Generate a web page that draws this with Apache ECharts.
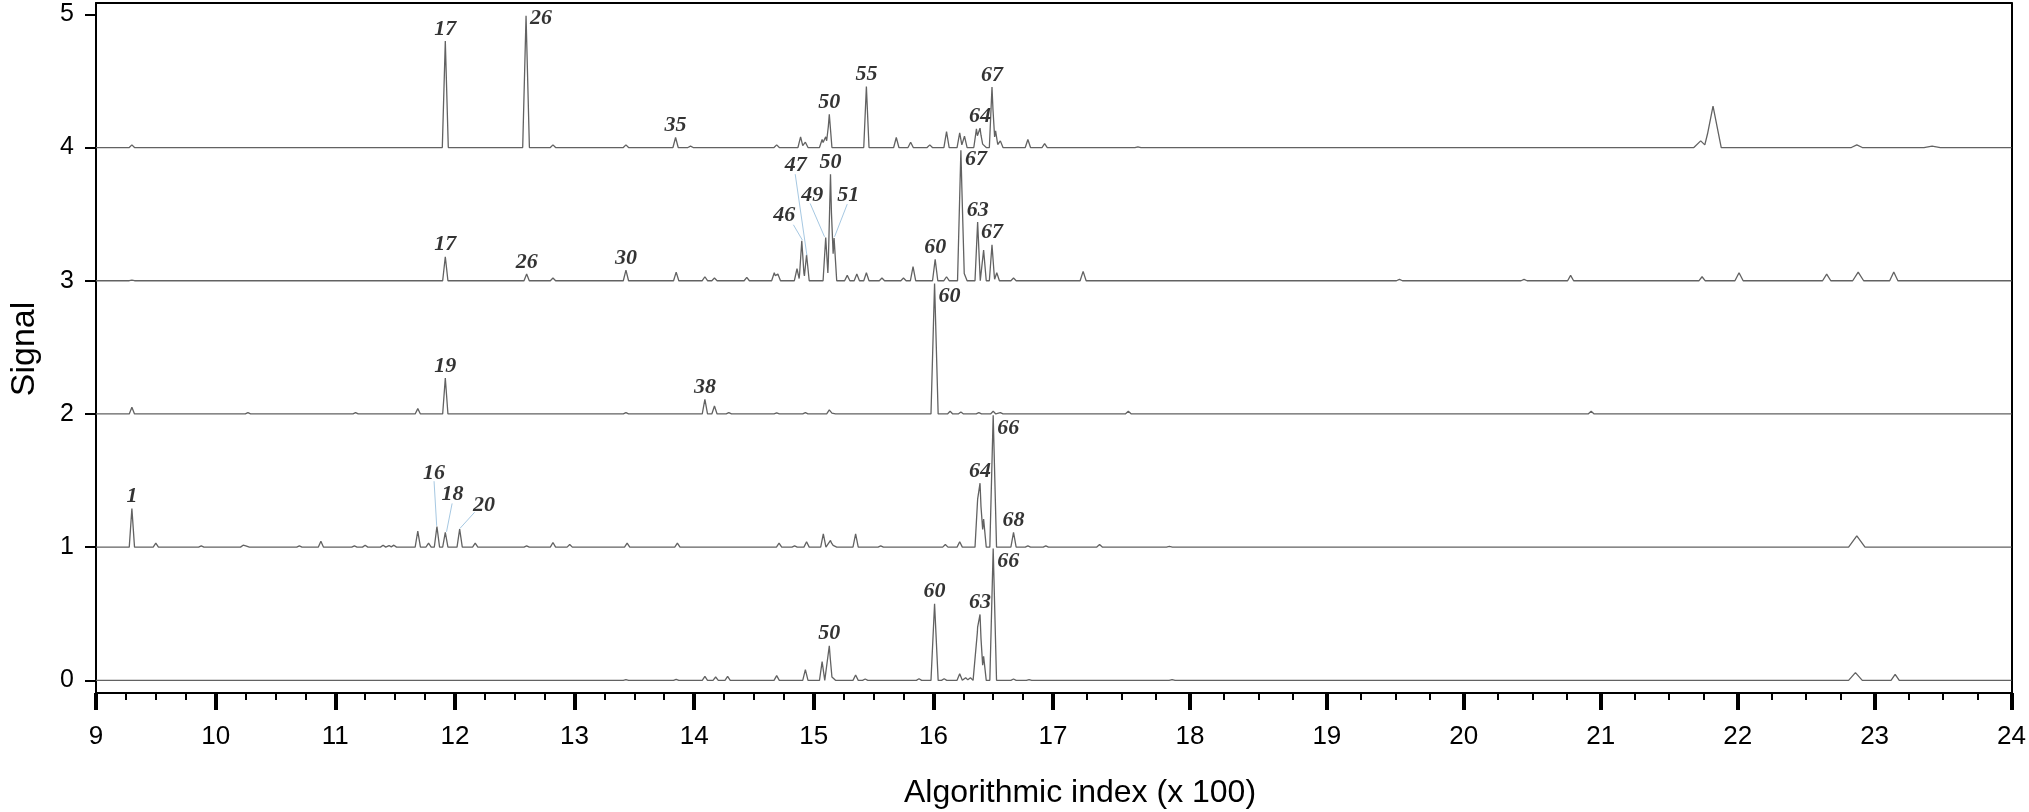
<!DOCTYPE html>
<html><head><meta charset="utf-8">
<script src="https://cdn.jsdelivr.net/npm/echarts@6/dist/echarts.min.js"></script>
<style>html,body{margin:0;padding:0;background:#fff}#c{width:2029px;height:812px}</style>
</head><body><div id="c"></div>
<script>
// ---------------- data ----------------
const xMin = 9, xBreak = 17, xMax = 24;
const yTickValues = [0, 1, 2, 3, 4, 5];
const traceOffsets = [0, 1, 2, 3, 4];

// peaks: [position (x100), height above the trace baseline, optional half-width]
const trace0Peaks = [[13.43,0.005],[13.85,0.008],[14.09,0.03],[14.18,0.025],[14.28,0.03],[14.69,0.035],[14.93,0.08],[15.07,0.14],[15.13,0.26],[15.16,0.04],[15.35,0.04],[15.43,0.01],[15.88,0.012],[16.01,0.575,0.03],[16.09,0.012],[16.22,0.05],[16.27,0.02],[16.31,0.02],[16.37,0.40],[16.39,0.495],[16.42,0.18],[16.50,0.99,0.028],[16.67,0.01],[16.80,0.006],[17.87,0.005],[22.86,0.058,0.05],[23.15,0.045,0.03]];
const trace1Peaks = [[9.30,0.29],[9.50,0.03],[9.88,0.01],[10.23,0.015],[10.26,0.015],[10.70,0.01],[10.88,0.045],[11.16,0.01],[11.25,0.015],[11.40,0.015],[11.45,0.012],[11.49,0.015],[11.69,0.12],[11.78,0.03],[11.85,0.155],[11.92,0.11],[12.04,0.135],[12.17,0.03],[12.60,0.01],[12.82,0.035],[12.96,0.02],[13.44,0.03],[13.86,0.03],[14.71,0.03],[14.84,0.01],[14.94,0.04],[15.08,0.10],[15.14,0.05],[15.17,0.02],[15.35,0.10],[15.56,0.01],[16.10,0.02],[16.22,0.04],[16.37,0.36],[16.39,0.48],[16.42,0.21],[16.50,0.99,0.028],[16.67,0.11],[16.79,0.01],[16.94,0.01],[17.34,0.02],[17.85,0.005],[22.87,0.085,0.06]];
const trace2Peaks = [[9.30,0.05],[10.27,0.01],[11.17,0.01],[11.69,0.04],[11.92,0.27],[13.43,0.01],[14.09,0.11],[14.17,0.06],[14.29,0.01],[14.69,0.008],[14.93,0.01],[15.13,0.03],[15.16,0.01],[16.01,0.98,0.03],[16.14,0.02],[16.23,0.015],[16.38,0.01],[16.50,0.02],[16.56,0.01],[17.55,0.02],[20.93,0.02]];
const trace3Peaks = [[9.30,0.005],[11.92,0.18],[12.60,0.05],[12.82,0.02],[13.43,0.08],[13.85,0.065],[14.09,0.03],[14.17,0.02],[14.44,0.025],[14.67,0.06],[14.70,0.05],[14.86,0.09],[14.90,0.30],[14.94,0.195],[15.10,0.325],[15.14,0.80],[15.17,0.32],[15.28,0.04],[15.36,0.05],[15.44,0.06],[15.57,0.02],[15.75,0.02],[15.83,0.105],[16.015,0.16],[16.11,0.03],[16.23,0.98,0.028],[16.26,0.06],[16.37,0.44],[16.42,0.23],[16.49,0.27],[16.53,0.06],[16.67,0.02],[17.22,0.07],[19.53,0.01],[20.44,0.01],[20.78,0.04],[21.74,0.03],[22.01,0.06,0.03],[22.65,0.05,0.03],[22.88,0.065,0.04],[23.14,0.065,0.03]];
const trace4Peaks = [[9.30,0.02],[11.92,0.80,0.025],[12.595,0.99,0.028],[12.82,0.02],[13.43,0.02],[13.845,0.075],[13.97,0.01],[14.69,0.02],[14.89,0.08],[14.93,0.04],[15.07,0.06],[15.10,0.08],[15.13,0.25],[15.44,0.457],[15.69,0.075],[15.81,0.04],[15.97,0.02],[16.11,0.12],[16.22,0.11],[16.26,0.085],[16.36,0.14],[16.39,0.145],[16.42,0.04],[16.49,0.455],[16.52,0.125],[16.56,0.05],[16.79,0.06],[16.93,0.03],[17.62,0.005],[21.73,0.05,0.05],[21.82,0.31,0.06],[22.87,0.02,0.04],[23.42,0.01,0.06]];
const tracePeaks = [trace0Peaks, trace1Peaks, trace2Peaks, trace3Peaks, trace4Peaks];

// peak labels: [trace, peak position, text, side]
const peakLabels = [
  [4,11.92,'17','top'],[4,12.595,'26','right'],[4,13.845,'35','top'],[4,15.13,'50','top'],[4,15.44,'55','top'],[4,16.39,'64','top'],[4,16.49,'67','top'],
  [3,11.92,'17','top'],[3,12.60,'26','top'],[3,13.43,'30','top'],[3,15.14,'50','top'],[3,16.015,'60','top'],[3,16.23,'67','right'],[3,16.37,'63','top'],[3,16.49,'67','top'],
  [2,11.92,'19','top'],[2,14.09,'38','top'],[2,16.01,'60','right'],
  [1,9.30,'1','top'],[1,16.39,'64','top'],[1,16.50,'66','right'],[1,16.67,'68','top'],
  [0,15.13,'50','top'],[0,16.01,'60','top'],[0,16.39,'63','top'],[0,16.50,'66','right']
];
// labels with leader lines: text, label centre, leader start, leader end
const leaderLabels = [
  ['46',[14.753,3.4875],[14.83,3.42],[14.905,3.305]],
  ['47',[14.849,3.87],[14.845,3.80],[14.943,3.19]],
  ['49',[14.987,3.645],[14.97,3.58],[15.09,3.33]],
  ['51',[15.288,3.645],[15.28,3.575],[15.174,3.33]],
  ['16',[11.826,1.556],[11.826,1.495],[11.848,1.16]],
  ['18',[11.981,1.395],[11.977,1.328],[11.93,1.115]],
  ['20',[12.244,1.3125],[12.165,1.262],[12.042,1.14]]
];

// ---------------- build ----------------
const DEFAULT_W = 0.022;
function traceLine(peaks, base) {
  const xs = new Set([xMin, xBreak, xMax]);
  peaks.forEach(p => { const w = p[2] || DEFAULT_W; xs.add(+(p[0]-w).toFixed(4)); xs.add(p[0]); xs.add(+(p[0]+w).toFixed(4)); });
  const arr = Array.from(xs).filter(x => x >= xMin && x <= xMax).sort((a,b)=>a-b);
  return arr.map(x => {
    let y = 0;
    peaks.forEach(p => { const w = p[2] || DEFAULT_W; const t = p[1] * (1 - Math.abs(x - p[0]) / w); if (t > y) y = t; });
    return [x, +(base + y).toFixed(4)];
  });
}
function peakTop(trace, x) {
  const p = tracePeaks[trace].find(q => Math.abs(q[0]-x) < 1e-6);
  return traceOffsets[trace] + (p ? p[1] : 0);
}

const series = [];
tracePeaks.forEach((pk, i) => {
  const pts = traceLine(pk, traceOffsets[i]);
  const lineStyle = {color:'#626262', width:1.3};
  series.push({type:'line', xAxisIndex:0, yAxisIndex:0, data:pts.filter(p=>p[0]<=xBreak), showSymbol:false, symbol:'none', lineStyle, silent:true, animation:false, clip:true});
  series.push({type:'line', xAxisIndex:2, yAxisIndex:1, data:pts.filter(p=>p[0]>=xBreak), showSymbol:false, symbol:'none', lineStyle, silent:true, animation:false, clip:true});
});

const labelFont = {fontFamily:'Liberation Serif', fontStyle:'italic', fontWeight:'bold', fontSize:22, color:'#000'};
const rightDy = {'4_12.595':3, '3_16.23':9, '2_16.01':13, '1_16.5':13, '0_16.5':13};
const labelData = peakLabels.map(l => {
  const [tr, x, txt, side] = l;
  const y = peakTop(tr, x);
  const label = side === 'right'
    ? Object.assign({show:true, position:'right', distance:4, offset:[0, rightDy[tr+'_'+x] || 12], formatter:txt}, labelFont)
    : Object.assign({show:true, position:'top', distance:1, formatter:txt}, labelFont);
  return {value:[x, y], label};
});
leaderLabels.forEach(l => {
  labelData.push({value:l[1], label:Object.assign({show:true, position:'inside', formatter:l[0]}, labelFont)});
});
series.push({
  type:'scatter', xAxisIndex:0, yAxisIndex:0, symbolSize:0, data:labelData, silent:true, animation:false, z:5,
  markLine:{silent:true, symbol:['none','none'], animation:false, label:{show:false},
    lineStyle:{color:'#a6c8e2', width:1, type:'solid'},
    data: leaderLabels.map(l => [{coord:l[2]}, {coord:l[3]}])}
});

const axisBlack = {color:'#000', width:2};
const tickLabel = {color:'#000', fontFamily:'Liberation Sans', fontSize:26, margin:31};
const chart = echarts.init(document.getElementById('c'), null, {renderer:'canvas'});
chart.setOption({
  animation:false,
  backgroundColor:'#fff',
  grid:[
    {left:96, top:3, width:957, height:690, show:false},
    {left:1053, top:3, width:959, height:690, show:false}
  ],
  xAxis:[
    {gridIndex:0, type:'value', min:xMin, max:xBreak, interval:1, position:'bottom',
     axisLine:{show:true, onZero:false, lineStyle:axisBlack},
     axisTick:{show:true, length:17, lineStyle:{color:'#000', width:4}},
     minorTick:{show:true, splitNumber:4, length:7, lineStyle:{color:'#000', width:2}},
     axisLabel:tickLabel, splitLine:{show:false}},
    {gridIndex:0, type:'value', min:xMin, max:xBreak, position:'top',
     axisLine:{show:true, onZero:false, lineStyle:axisBlack}, axisTick:{show:false}, axisLabel:{show:false}, splitLine:{show:false}},
    {gridIndex:1, type:'value', min:xBreak, max:xMax, interval:1, position:'bottom',
     axisLine:{show:true, onZero:false, lineStyle:axisBlack},
     axisTick:{show:true, length:17, lineStyle:{color:'#000', width:4}},
     minorTick:{show:true, splitNumber:4, length:7, lineStyle:{color:'#000', width:2}},
     axisLabel:Object.assign({showMinLabel:false}, tickLabel), splitLine:{show:false}},
    {gridIndex:1, type:'value', min:xBreak, max:xMax, position:'top',
     axisLine:{show:true, onZero:false, lineStyle:axisBlack}, axisTick:{show:false}, axisLabel:{show:false}, splitLine:{show:false}}
  ],
  yAxis:[
    {gridIndex:0, type:'value', min:-0.095, max:5.085, position:'left',
     axisLine:{show:true, onZero:false, lineStyle:axisBlack},
     axisTick:{show:true, length:11, customValues:yTickValues, lineStyle:{color:'#000', width:2}},
     axisLabel:{show:true, customValues:yTickValues, color:'#000', fontFamily:'Liberation Sans', fontSize:25, margin:22},
     splitLine:{show:false}},
    {gridIndex:1, type:'value', min:-0.095, max:5.085, position:'right',
     axisLine:{show:true, onZero:false, lineStyle:axisBlack}, axisTick:{show:false}, axisLabel:{show:false}, splitLine:{show:false}}
  ],
  graphic:[
    {type:'text', x:25, y:349, rotation:Math.PI/2,
     style:{text:'Signal', fill:'#000', fontSize:34, fontFamily:'Liberation Sans', textAlign:'center', textVerticalAlign:'middle', verticalAlign:'middle', align:'center'}},
    {type:'text', x:1080, y:793,
     style:{text:'Algorithmic index (x 100)', fill:'#000', fontSize:32, fontFamily:'Liberation Sans', textAlign:'center', textVerticalAlign:'middle', verticalAlign:'middle', align:'center'}}
  ],
  series
});
</script></body></html>
